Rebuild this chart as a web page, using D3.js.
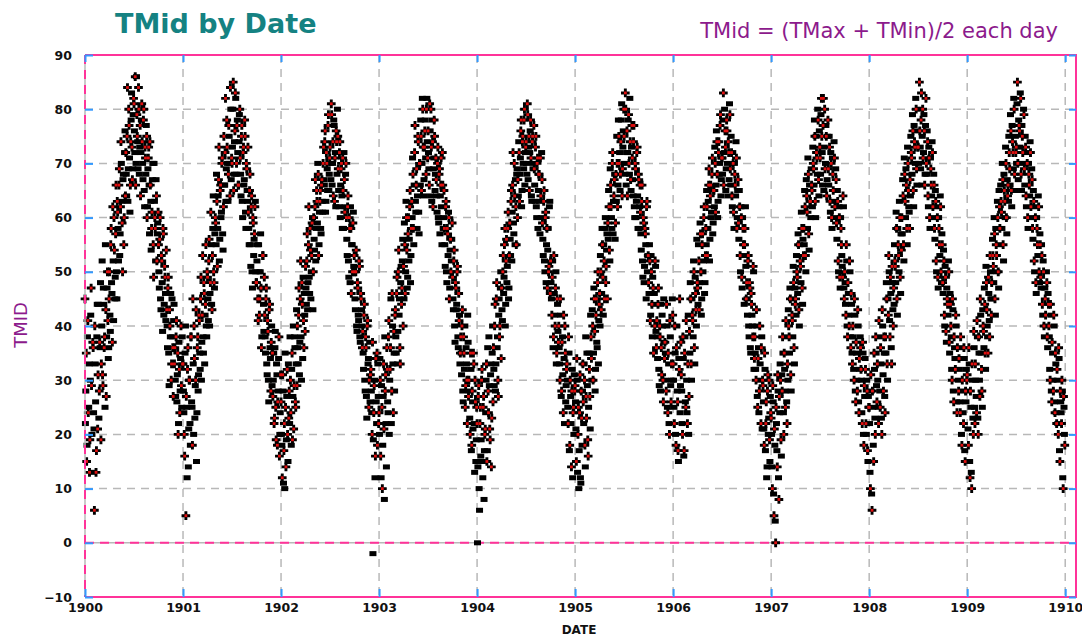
<!DOCTYPE html>
<html>
<head>
<meta charset="utf-8">
<script src="https://cdn.jsdelivr.net/npm/d3@7"></script>
<style>
  body { margin: 0; background: #fff; }
  svg { display: block; }
</style>
</head>
<body>
<svg id="chart" width="1082" height="639"></svg>
<script>
// daily TMid, two passes of 10 readings a month per year
const years = [1900, 1901, 1902, 1903, 1904, 1905, 1906, 1907, 1908, 1909]

const tmid1900 = [
  22,35,18,41,25,13,30,47,20,37, 24,6,33,13,38,21,44,28,36,19,
  40,31,47,36,25,43,38,50,34,45, 42,55,48,37,52,60,45,57,50,63,
  58,66,53,62,70,59,67,55,72,64, 68,75,63,80,71,66,78,73,69,82,
  76,86,70,79,74,84,68,77,72,81, 70,78,65,73,68,75,62,71,66,74,
  63,58,67,55,70,60,52,64,57,61, 50,56,45,53,48,58,42,51,46,54,
  40,47,35,43,38,30,45,36,41,33, 30,38,26,35,22,32,28,40,25,33]
const tmid1901 = [
  28,20,35,5,25,32,14,30,22,38, 26,18,33,40,23,30,15,36,28,42,
  35,45,30,42,38,48,33,44,40,50, 45,52,40,48,55,43,58,50,47,60,
  55,63,58,67,52,65,60,70,57,62, 66,72,63,78,70,68,75,64,80,71,
  73,85,68,76,82,70,78,66,74,80, 68,75,63,72,66,78,61,70,65,73,
  58,65,55,62,50,60,53,57,63,48, 52,45,55,42,50,47,38,53,44,49,
  38,45,33,41,30,43,36,28,40,35, 30,22,36,25,33,18,28,38,20,31]
const tmid1902 = [
  20,12,28,17,10,25,19,32,15,23, 22,30,18,35,27,21,38,26,33,29,
  36,42,31,45,38,48,34,41,46,39, 47,52,43,55,49,58,45,53,60,50,
  56,62,52,65,59,68,55,63,58,66, 63,70,67,74,61,72,69,77,65,71,
  70,81,66,74,78,63,72,76,68,75, 65,72,60,69,64,71,58,67,62,70,
  56,62,52,60,48,58,55,50,61,53, 45,50,40,48,42,52,38,46,43,36,
  35,42,30,38,27,40,33,25,37,31, 28,20,-2,24,30,16,26,35,33,22]
const tmid1903 = [
  20,30,12,25,18,33,8,28,22,36, 26,38,20,32,45,28,40,24,35,42,
  38,46,33,50,42,36,48,44,52,40, 45,55,50,60,47,57,52,62,48,58,
  60,68,55,72,63,66,58,75,61,70, 66,75,70,80,64,73,78,68,82,71,
  72,66,76,80,63,74,69,78,65,71, 64,70,60,68,57,66,62,72,58,65,
  55,62,50,58,53,60,47,56,52,59, 45,52,40,48,43,50,38,46,42,35,
  35,40,28,38,32,25,36,30,42,27, 28,20,32,18,26,35,22,30,15,25]
const tmid1904 = [
  0,27,10,22,16,30,15,25,8,20, 24,33,17,28,38,21,31,14,35,26,
  32,40,28,45,36,30,42,38,47,34, 43,50,46,55,40,52,48,58,45,53,
  56,63,52,66,59,70,55,62,68,60, 64,72,68,76,62,74,70,78,66,73,
  70,81,67,75,72,78,64,74,69,77, 66,73,62,70,58,68,63,71,60,67,
  56,63,52,60,48,58,54,50,62,46, 48,42,52,38,46,40,50,35,44,37,
  36,30,42,28,38,24,34,40,26,32, 30,22,35,18,27,14,32,24,20,28]
const tmid1905 = [
  26,15,30,20,10,24,12,28,18,33, 22,30,14,27,35,19,25,32,21,38,
  30,40,35,45,28,42,37,48,33,44, 40,50,46,55,42,52,58,48,54,45,
  56,62,52,66,60,70,57,64,68,59, 63,70,66,75,72,68,78,64,73,80,
  70,83,66,76,72,79,68,74,65,77, 67,74,62,70,60,72,64,68,58,66,
  57,63,52,60,48,58,55,62,50,53, 46,52,42,50,38,47,44,40,51,36,
  38,44,32,40,28,36,42,30,45,34, 35,28,40,24,33,20,38,26,30,42]
const tmid1906 = [
  30,22,35,18,40,26,15,32,24,37, 28,20,34,17,38,25,30,22,42,27,
  35,45,30,42,38,50,33,46,40,48, 44,52,48,57,42,55,50,60,46,53,
  55,62,58,66,52,64,60,68,57,65, 62,70,66,74,60,72,68,77,64,71,
  68,83,72,76,65,78,70,74,67,79, 66,72,62,70,58,68,64,71,60,67,
  56,62,50,60,47,58,53,55,62,45, 45,52,40,48,36,46,42,38,50,34,
  35,30,40,25,36,28,33,22,38,30, 26,18,32,22,12,28,20,30,15,24]
const tmid1907 = [
  20,10,26,5,18,0,22,14,28,8, 24,30,16,28,35,20,32,25,38,22,
  30,40,35,45,28,42,38,48,33,44, 42,50,46,55,40,52,48,58,44,53,
  55,62,50,64,58,68,54,63,60,66, 62,70,66,75,60,72,68,78,64,73,
  68,82,72,77,65,80,70,75,67,78, 66,73,61,70,58,68,63,71,60,67,
  56,63,50,60,47,58,53,49,62,45, 48,42,52,38,46,40,50,36,44,33,
  38,30,42,26,35,28,40,24,32,36, 30,22,35,18,27,32,20,28,15,25]
const tmid1908 = [
  22,10,28,6,25,15,32,20,35,26, 30,22,38,25,33,20,40,28,35,24,
  35,45,30,42,50,38,46,33,48,40, 44,52,48,58,42,55,50,60,46,54,
  57,64,52,68,60,66,55,70,62,58, 64,72,68,76,62,74,70,80,66,73,
  70,85,73,78,66,80,72,76,68,82, 68,74,62,71,58,69,64,72,60,66,
  56,63,50,60,47,58,53,62,48,55, 46,52,40,49,37,45,42,50,35,44,
  38,30,43,26,36,32,40,24,34,28, 32,24,36,18,28,22,34,15,26,30]
const tmid1909 = [
  28,18,33,12,25,10,30,20,36,22, 30,24,38,20,35,27,42,32,25,40,
  36,44,32,48,40,35,46,38,50,42, 45,53,48,57,42,55,50,60,47,62,
  55,63,58,67,52,65,60,70,57,64, 63,72,66,76,62,74,69,80,65,72,
  70,85,67,77,73,82,65,75,70,79, 66,73,62,70,58,68,64,72,60,67,
  56,63,50,60,46,58,53,62,48,55, 47,53,42,50,38,45,40,48,36,44,
  38,30,42,26,35,28,40,24,33,22, 30,20,34,15,26,22,28,10,25,18]

// second pass: the days in between
const tmid1900b = [
  45,28,15,38,24,33,19,42,29,13, 36,21,40,26,17,44,31,23,37,48,
  33,52,29,44,38,55,27,47,41,36, 50,39,58,46,62,41,54,49,66,45,
  61,52,69,57,74,63,50,68,60,76, 72,64,84,69,77,61,74,83,67,79,
  81,72,66,86,75,69,80,73,64,78, 74,67,80,62,71,77,60,69,73,57,
  66,54,61,70,49,63,58,67,52,59, 55,47,60,43,52,39,57,44,49,41,
  43,36,49,29,40,46,33,38,27,44, 36,27,41,31,20,37,24,34,29,38]
const tmid1901b = [
  33,24,16,40,27,12,36,21,30,18, 38,25,45,20,34,29,43,24,38,31,
  41,32,49,37,53,35,46,42,55,38, 49,41,56,46,61,44,53,64,48,57,
  59,68,51,64,73,56,66,61,71,54, 75,66,82,69,73,63,77,70,84,67,
  70,80,65,74,83,68,77,72,66,79, 71,64,77,60,73,67,75,58,69,63,
  61,55,68,51,64,47,59,56,62,50, 48,55,41,50,45,57,36,47,53,39,
  42,35,47,31,39,26,44,34,37,29, 27,35,23,39,19,31,26,34,16,24]
const tmid1902b = [
  26,18,31,11,22,35,14,27,20,33, 28,38,24,32,19,40,29,36,25,43,
  40,33,47,37,52,30,44,49,36,42, 51,44,57,48,62,46,54,50,59,43,
  60,54,67,58,63,70,53,61,65,57, 67,61,73,66,76,63,70,65,79,68,
  73,67,79,70,64,77,71,62,74,80, 69,62,74,66,70,58,65,72,61,68,
  60,53,64,49,58,62,46,55,59,51, 50,43,54,39,47,41,51,37,45,40,
  39,32,44,28,36,23,41,34,30,26, 32,24,37,19,29,12,34,22,18,27]
const tmid1903b = [
  24,34,16,29,10,27,21,38,31,14, 32,24,41,30,36,22,46,33,39,28,
  43,35,49,39,54,45,33,51,47,56, 51,59,46,63,54,49,60,56,65,53,
  63,71,58,66,77,61,69,64,74,57, 70,78,65,82,73,67,76,71,80,74,
  76,69,81,64,73,78,62,71,75,68, 67,61,73,59,69,64,71,55,66,60,
  58,51,63,48,57,61,45,54,50,56, 49,43,54,37,47,44,51,36,41,33,
  38,31,43,26,35,40,29,33,22,37, 30,23,35,17,28,21,33,13,26,19]
const tmid1904b = [
  22,14,29,6,25,19,32,12,27,17, 21,30,15,36,24,29,19,33,23,40,
  36,29,44,33,48,38,27,45,40,50, 47,41,53,49,58,44,56,51,61,47,
  59,53,65,61,72,57,64,67,55,69, 67,74,63,71,78,65,75,69,80,72,
  74,68,79,73,65,76,71,63,75,70, 69,63,75,60,71,65,68,57,64,72,
  59,53,65,50,61,55,47,58,51,63, 52,45,49,36,53,42,47,33,45,39,
  40,33,45,27,37,31,42,22,35,29, 33,25,38,17,30,22,28,12,25,31]
const tmid1905b = [
  29,21,34,13,25,17,31,11,23,28, 26,33,18,38,23,29,16,35,27,42,
  34,43,30,47,39,32,45,36,50,41, 46,53,43,58,49,55,45,60,51,57,
  59,65,54,69,62,58,72,63,67,56, 68,75,62,78,70,65,74,81,69,76,
  75,68,80,72,64,78,70,82,67,73, 71,64,77,60,69,63,73,58,67,62,
  61,54,66,49,59,51,57,45,63,53, 48,55,41,53,44,49,35,46,52,39,
  41,34,47,29,38,44,31,40,26,37, 37,30,44,25,35,22,41,29,33,45]
const tmid1906b = [
  33,25,40,20,36,28,17,34,45,29, 31,22,38,16,35,26,41,24,33,20,
  39,48,33,45,41,52,36,49,43,56, 47,55,43,59,50,45,57,52,62,48,
  58,65,53,63,69,56,66,61,71,59, 65,73,61,76,68,63,74,70,79,67,
  71,78,66,80,73,69,76,64,72,81, 69,75,64,72,61,70,66,74,58,65,
  59,65,53,62,49,60,55,44,58,51, 48,42,53,38,47,35,44,40,51,32,
  38,32,43,27,34,24,40,30,36,21, 29,21,35,17,26,14,31,23,19,27]
const tmid1907b = [
  23,14,29,9,21,4,25,17,31,12, 27,33,19,31,38,24,35,28,41,26,
  33,43,38,47,31,45,41,51,36,47, 45,53,49,57,43,55,51,61,47,56,
  58,65,53,67,61,71,57,66,63,69, 65,73,69,78,63,75,71,80,67,76,
  71,79,75,66,82,73,69,77,64,75, 69,75,63,72,60,71,65,74,62,69,
  59,65,52,62,49,60,55,51,64,47, 50,44,55,40,48,42,52,38,46,35,
  40,32,45,28,37,30,43,26,34,38, 32,24,37,20,29,34,22,30,17,27]
const tmid1908b = [
  25,13,31,9,28,18,35,23,38,29, 33,25,41,28,36,23,43,31,38,27,
  38,48,33,45,53,41,49,36,51,43, 47,55,51,61,45,58,53,63,49,57,
  60,67,55,71,63,69,58,73,65,61, 67,75,71,79,65,77,73,82,69,76,
  73,80,76,69,83,75,71,79,66,77, 70,76,64,73,60,71,66,74,62,68,
  58,65,52,62,49,60,55,64,50,57, 48,54,42,51,39,47,44,52,37,46,
  40,32,45,28,38,34,42,26,36,30, 34,26,38,20,30,24,36,17,28,32]
const tmid1909b = [
  31,21,36,15,28,13,33,23,39,25, 33,27,41,23,38,30,45,35,28,43,
  39,47,35,51,43,38,49,41,53,45, 48,56,51,60,45,58,53,63,50,65,
  58,66,61,70,55,68,63,73,60,67, 66,75,69,79,65,77,72,82,68,75,
  73,81,70,78,76,83,68,77,72,80, 69,75,64,72,60,70,66,74,62,69,
  58,65,52,62,48,60,55,64,50,57, 49,55,44,52,40,47,42,50,38,46,
  40,32,44,28,37,30,42,26,35,24, 32,22,36,17,28,24,30,12,27,20]

const yearTicks = [1900, 1901, 1902, 1903, 1904, 1905, 1906, 1907, 1908, 1909, 1910]
const tempTicks = [-10, 0, 10, 20, 30, 40, 50, 60, 70, 80, 90]

const passA = [tmid1900, tmid1901, tmid1902, tmid1903, tmid1904,
               tmid1905, tmid1906, tmid1907, tmid1908, tmid1909]
const passB = [tmid1900b, tmid1901b, tmid1902b, tmid1903b, tmid1904b,
               tmid1905b, tmid1906b, tmid1907b, tmid1908b, tmid1909b]

let points = []
passA.forEach((vals, k) => {
  vals.forEach((v, i) => {
    points.push({date: years[k] + (i + 0.5) / vals.length, t: v, n: i})
  })
})
passB.forEach((vals, k) => {
  vals.forEach((v, i) => {
    points.push({date: years[k] + i / vals.length, t: v, n: i + 1})
  })
})

const pink = '#ff3399'
const blue = '#3399ff'
const grey = '#b8b8b8'

const plotL = 85, plotR = 1076, plotT = 55, plotB = 597

const x = d3.scaleLinear().domain([1900, 1910.11]).range([plotL, plotR])
const y = d3.scaleLinear().domain([-10, 90]).range([plotB, plotT])

const svg = d3.select('#chart')

// grid
svg.append('g')
  .selectAll('line')
  .data(yearTicks.slice(1))
  .enter()
  .append('line')
  .attr('x1', d => x(d)).attr('x2', d => x(d))
  .attr('y1', plotT).attr('y2', plotB)
  .attr('stroke', grey).attr('stroke-width', 1.5)
  .attr('stroke-dasharray', '8,6')

svg.append('g')
  .selectAll('line')
  .data(tempTicks.filter(d => d > -10 && d < 90))
  .enter()
  .append('line')
  .attr('x1', plotL).attr('x2', plotR)
  .attr('y1', d => y(d)).attr('y2', d => y(d))
  .attr('stroke', grey).attr('stroke-width', 1.5)
  .attr('stroke-dasharray', d => d === 0 ? null : '8,6')

// zero line
svg.append('line')
  .attr('x1', plotL).attr('x2', plotR)
  .attr('y1', y(0)).attr('y2', y(0))
  .attr('stroke', pink).attr('stroke-width', 2)
  .attr('stroke-dasharray', '9,6')

// points: black blocks and black crosses with a red heart
const dots = svg.append('g')
dots.selectAll('rect.blk')
  .data(points.filter(p => p.n % 2 === 0))
  .enter()
  .append('rect')
  .attr('class', 'blk')
  .attr('x', p => x(p.date) - 3.5)
  .attr('y', p => y(p.t) - 2.5)
  .attr('width', 7).attr('height', 5)
  .attr('fill', '#000')

const crosses = points.filter(p => p.n % 2 === 1)
dots.selectAll('path')
  .data(crosses)
  .enter()
  .append('path')
  .attr('transform', p => `translate(${x(p.date)},${y(p.t)})`)
  .attr('d', d3.symbol(d3.symbolCross, 42))
  .attr('fill', '#000')

dots.selectAll('rect.red')
  .data(crosses)
  .enter()
  .append('rect')
  .attr('class', 'red')
  .attr('x', p => x(p.date) - 1.4)
  .attr('y', p => y(p.t) - 1.4)
  .attr('width', 2.8).attr('height', 2.8)
  .attr('fill', '#e01010')

// frame
svg.append('line')
  .attr('x1', plotL).attr('x2', plotL).attr('y1', plotT).attr('y2', plotB)
  .attr('stroke', grey).attr('stroke-width', 1.5)
svg.append('line')
  .attr('x1', plotL).attr('x2', plotL).attr('y1', plotT).attr('y2', plotB)
  .attr('stroke', pink).attr('stroke-width', 2).attr('stroke-dasharray', '9,6')
svg.append('path')
  .attr('d', `M${plotL},${plotT}H${plotR}V${plotB}H${plotL}`)
  .attr('fill', 'none').attr('stroke', pink).attr('stroke-width', 2)

// axes with short blue inward ticks
const tickFont = g => {
  g.select('.domain').remove()
  g.selectAll('line').attr('stroke', blue).attr('stroke-width', 2)
  g.selectAll('text')
    .attr('fill', '#111')
    .style('font-family', '"DejaVu Sans", sans-serif')
    .style('font-size', '12.5px')
    .style('font-weight', 'bold')
}

svg.append('g')
  .attr('transform', `translate(${plotL},0)`)
  .call(d3.axisLeft(y).tickValues(tempTicks).tickSize(-8).tickPadding(13))
  .call(tickFont)

svg.append('g')
  .attr('transform', `translate(${plotR},0)`)
  .call(d3.axisRight(y).tickValues(tempTicks).tickSize(-7).tickFormat(''))
  .call(tickFont)

svg.append('g')
  .attr('transform', `translate(0,${plotB})`)
  .call(d3.axisBottom(x).tickValues(yearTicks).tickSize(-8).tickPadding(6).tickFormat(d3.format('d')))
  .call(tickFont)

svg.append('g')
  .attr('transform', `translate(0,${plotT})`)
  .call(d3.axisTop(x).tickValues(yearTicks).tickSize(-7).tickFormat(''))
  .call(tickFont)

// titles
svg.append('text')
  .attr('x', 115).attr('y', 33)
  .attr('fill', '#158282')
  .style('font-family', '"DejaVu Sans", sans-serif')
  .style('font-size', '27px').style('font-weight', 'bold')
  .text('TMid by Date')

svg.append('text')
  .attr('x', 1058).attr('y', 38)
  .attr('text-anchor', 'end')
  .attr('fill', '#8c1a8c')
  .style('font-family', '"DejaVu Sans", sans-serif')
  .style('font-size', '21px')
  .text('TMid = (TMax + TMin)/2 each day')

svg.append('text')
  .attr('transform', 'translate(27,325) rotate(-90)')
  .attr('text-anchor', 'middle')
  .attr('fill', '#8c1a8c')
  .style('font-family', '"DejaVu Sans", sans-serif')
  .style('font-size', '18px')
  .text('TMID')

svg.append('text')
  .attr('x', 579).attr('y', 634)
  .attr('text-anchor', 'middle')
  .attr('fill', '#111')
  .style('font-family', '"DejaVu Sans", sans-serif')
  .style('font-size', '12px').style('font-weight', 'bold')
  .text('DATE')
</script>
</body>
</html>
